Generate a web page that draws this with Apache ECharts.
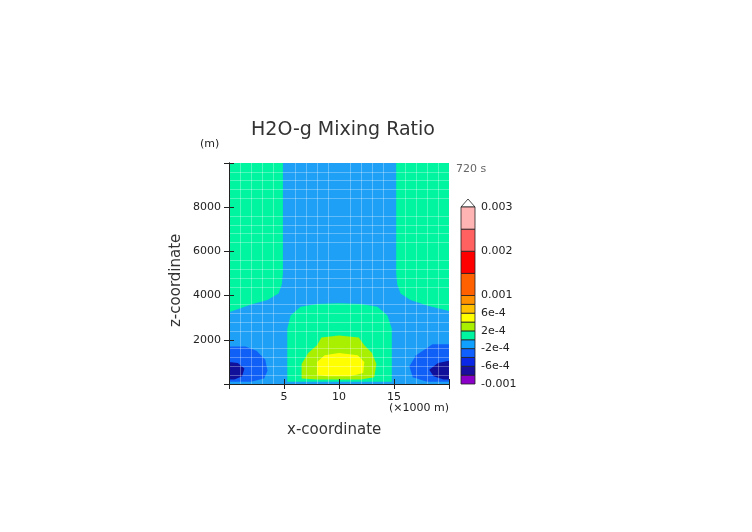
<!DOCTYPE html>
<html><head><meta charset="utf-8">
<script src="https://cdn.jsdelivr.net/npm/echarts@6/dist/echarts.min.js"></script>
<style>html,body{margin:0;background:#fff}#c{width:752px;height:532px}</style>
</head><body><div id="c"></div>
<script>
// Contour regions: [level index, polygon in (x km, z m)]
const regionLevels = [5, 6, 6, 6, 7, 8, 3, 3, 1, 1];
const regionShapes = [
  [[0,0],[20,0],[20,10000],[0,10000]],
  [[0,10000],[4.9,10000],[4.9,5000],[4.8,4500],[4.5,4100],[3.5,3800],[2,3600],[0,3250]],
  [[20,10000],[15.2,10000],[15.2,5000],[15.3,4500],[15.6,4100],[16.5,3800],[18,3550],[20,3300]],
  [[5.3,100],[5.3,2500],[5.6,3100],[6.5,3500],[8,3620],[10,3650],[12,3620],[13.5,3500],[14.4,3100],[14.8,2500],[14.8,100]],
  [[6.6,250],[6.6,900],[7.2,1400],[8,1750],[8.4,2100],[10,2200],[11.8,2100],[12.3,1750],[13,1400],[13.4,900],[13.2,300],[12,200],[8,200]],
  [[8,400],[8,1000],[8.7,1300],[10,1400],[11.7,1300],[12.3,1000],[12.2,500],[11,350],[9,350]],
  [[0,100],[0,1700],[1.5,1700],[2.5,1500],[3.3,1100],[3.5,600],[3.2,250],[2,100]],
  [[20,100],[20,1800],[18.5,1800],[17,1300],[16.4,800],[16.7,300],[18,100]],
  [[0,200],[0,1000],[0.8,950],[1.4,700],[1.2,350],[0.5,200]],
  [[20,200],[20,1050],[19,950],[18.2,650],[18.6,350],[19.5,200]]
];
const levelColors = ['#8a00c8','#10109a','#0a28e6','#1060f8','#10a0ff','#1ea0f6','#00f5a0','#a8f000','#ffff00','#ffc000','#ff9000','#ff6000','#ff0000','#ff6060','#ffb4b4'];
// colorbar: level bands and label positions
const barColors = ['#8a00c8','#1a10a0','#0a28e6','#1060ff','#10a0ff','#00f5a0','#a8f000','#ffff00','#ffc000','#ff9000','#ff6000','#ff0000','#ff6060','#ffb4b4'];
const barBounds = [0,1,2,3,4,5,6,7,8,9,10,12.5,15,17.5,20];
const barLabels = {0:'-0.001',2:'-6e-4',4:'-2e-4',6:'2e-4',8:'6e-4',10:'0.001',15:'0.002',20:'0.003'};

const chart = echarts.init(document.getElementById('c'));
const axCol = '#222';
const fnt = 'DejaVu Sans';
const tickCommon = {axisLine:{lineStyle:{color:axCol}},axisTick:{inside:true,length:5,lineStyle:{color:axCol}},
  minorTick:{show:false},z:10};
chart.setOption({
  animation:false,
  title:{text:'H2O-g Mixing Ratio',left:338,top:116,textAlign:'center',textStyle:{fontFamily:fnt,fontWeight:'normal',fontSize:19,color:'#333'}},
  grid:[{left:229,top:163,width:220,height:221},{left:461,top:207,width:14,height:177}],
  xAxis:[
    Object.assign({gridIndex:0,type:'value',min:0,max:20,interval:5,position:'bottom',
     splitLine:{show:false},minorSplitLine:{show:true,lineStyle:{color:'rgba(255,255,255,0.3)'}},
     axisLabel:{fontFamily:fnt,fontSize:11,color:'#222',formatter:v=>(v===0||v===20)?'':v}},tickCommon),
    Object.assign({gridIndex:0,type:'value',min:0,max:20,interval:5,position:'top',axisLabel:{show:false},splitLine:{show:false}},tickCommon),
    {gridIndex:1,type:'category',data:['c'],show:false}
  ],
  yAxis:[
    Object.assign({gridIndex:0,type:'value',min:0,max:10000,interval:2000,position:'left',
     splitLine:{show:false},minorSplitLine:{show:true,lineStyle:{color:'rgba(255,255,255,0.3)'}},
     axisLabel:{fontFamily:fnt,fontSize:11,color:'#222',formatter:v=>(v===0||v===10000)?'':v}},tickCommon),
    Object.assign({gridIndex:0,type:'value',min:0,max:10000,interval:2000,position:'right',axisLabel:{show:false},splitLine:{show:false}},tickCommon),
    {gridIndex:1,type:'value',min:0,max:20,interval:1,position:'right',
     axisLine:{show:false},axisTick:{show:false},splitLine:{show:false},
     axisLabel:{fontFamily:fnt,fontSize:11,color:'#222',margin:6,formatter:v=>barLabels[v]||''}}
  ],
  series:[
    {type:'custom',xAxisIndex:0,yAxisIndex:0,z:1,clip:true,
     data:regionLevels.map((l,i)=>[i,l]),
     renderItem:(p,api)=>{
       const i=api.value(0);
       return {type:'polygon',shape:{points:regionShapes[i].map(pt=>api.coord(pt))},
               style:{fill:levelColors[api.value(1)],stroke:null}};
     }},
    {type:'custom',xAxisIndex:2,yAxisIndex:2,z:1,
     data:barColors.map((c,i)=>[0,barBounds[i],barBounds[i+1],i]),
     renderItem:(p,api)=>{
       const a=api.coord([0,api.value(1)]), b=api.coord([0,api.value(2)]);
       const w=14, x=a[0]-w/2;
       return {type:'rect',shape:{x:x,y:b[1],width:w,height:a[1]-b[1]},
               style:{fill:barColors[api.value(3)],stroke:'#222',lineWidth:0.8}};
     }}
  ],
  graphic:[
    {type:'polygon',shape:{points:[[461,207],[475,207],[468,199]]},style:{fill:'#fff',stroke:'#222',lineWidth:0.8}},
    {type:'text',left:200,top:139,style:{text:'(m)',font:'11px DejaVu Sans',fill:'#222'}},
    {type:'text',left:456,top:164,style:{text:'720 s',font:'11px DejaVu Sans',fill:'#666'}},
    {type:'text',left:389,top:403,style:{text:'(×1000 m)',font:'11px DejaVu Sans',fill:'#222'}},
    {type:'text',left:287,top:423,style:{text:'x-coordinate',font:'15px DejaVu Sans',fill:'#333'}},
    {type:'text',x:169,y:327,rotation:Math.PI/2,style:{text:'z-coordinate',font:'15px DejaVu Sans',fill:'#333'}}
  ]
});
</script></body></html>
